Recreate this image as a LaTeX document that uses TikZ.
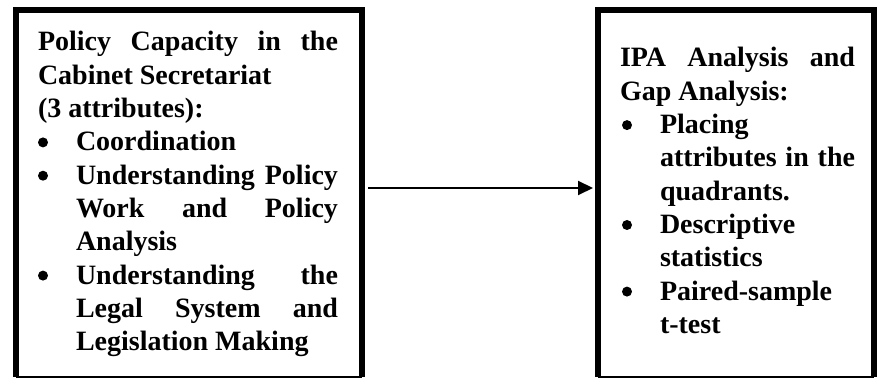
\documentclass[tikz,border=0pt]{standalone}
\usepackage{fontspec}
\setmainfont{Liberation Serif}
\usetikzlibrary{arrows.meta}

\tikzset{
  boxframe/.style={draw=none, inner sep=0pt, outer sep=0pt, anchor=north west, minimum height=367pt},
  heavyrule/.style={line width=6pt, line join=miter},
  lightrule/.style={line width=1.5pt},
  textblock/.style={inner sep=0pt, outer sep=0pt, anchor=base west, align=left},
  bulletdot/.style={fill=black},
  link/.style={line width=2pt, -{Triangle[length=15pt,width=14pt]}}
}

\newcommand{\boxfont}{\fontsize{28pt}{33.3pt}\selectfont\bfseries\lineskiplimit=-100pt\relax}

\begin{document}
\begin{tikzpicture}[x=1pt,y=1pt]
  \useasboundingbox (0,0) rectangle (878,-379);

  % frames of the two boxes
  \node[boxframe, minimum width=346pt] (capacity) at (16,-10) {};
  \node[boxframe, minimum width=276pt] (ipa) at (598,-10) {};

  \draw[heavyrule] (capacity.south west) -- (capacity.north west) -- (capacity.north east) -- (capacity.south east);
  \draw[lightrule] (capacity.south west) -- (capacity.south east);
  \draw[heavyrule] (ipa.south west) -- (ipa.north west) -- (ipa.north east) -- (ipa.south east);
  \draw[lightrule] (ipa.south west) -- (ipa.south east);

  % left box text
  \node[textblock] (captext) at (38,-51) {\parbox[t]{300pt}{\boxfont
    \makebox[300pt][s]{Policy Capacity in the}\\
    Cabinet Secretariat\\
    (3 attributes):\\
    \hspace*{38pt}Coordination\\
    \hspace*{38pt}\makebox[262pt][s]{Understanding Policy}\\
    \hspace*{38pt}\makebox[262pt][s]{Work and Policy}\\
    \hspace*{38pt}Analysis\\
    \hspace*{38pt}\makebox[262pt][s]{Understanding the}\\
    \hspace*{38pt}\makebox[262pt][s]{Legal System and}\\
    \hspace*{38pt}Legislation Making}};

  % right box text
  \node[textblock] (ipatext) at (620,-67) {\parbox[t]{235pt}{\boxfont
    \makebox[235pt][s]{IPA Analysis and}\\
    Gap Analysis:\\
    \hspace*{40pt}Placing\\
    \hspace*{40pt}\makebox[195pt][s]{attributes in the}\\
    \hspace*{40pt}quadrants.\\
    \hspace*{40pt}Descriptive\\
    \hspace*{40pt}statistics\\
    \hspace*{40pt}Paired-sample\\
    \hspace*{40pt}t-test}};

  % bullets
  \fill[bulletdot] (43,-142.4) circle[radius=5];
  \fill[bulletdot] (43,-175.7) circle[radius=5];
  \fill[bulletdot] (43,-275.6) circle[radius=5];
  \fill[bulletdot] (627,-125.1) circle[radius=5];
  \fill[bulletdot] (627,-225.0) circle[radius=5];
  \fill[bulletdot] (627,-291.6) circle[radius=5];

  % connector
  \draw[link] ([xshift=6pt,yshift=5.5pt]capacity.east) -- ([xshift=-5pt,yshift=5.5pt]ipa.west);
\end{tikzpicture}
\end{document}
